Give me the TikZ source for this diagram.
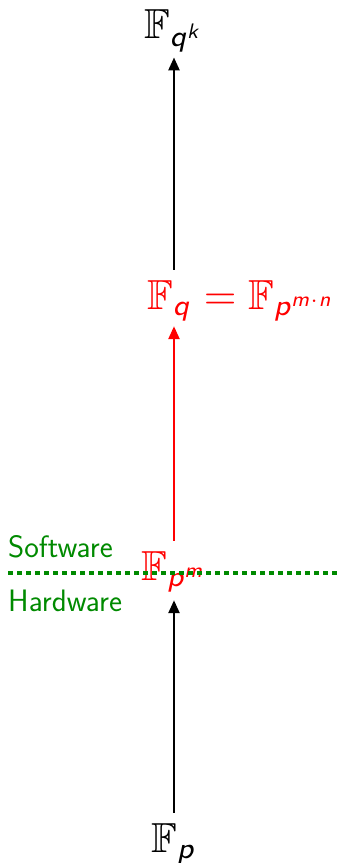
\documentclass[tikz,border=0pt]{standalone}
\usepackage{amssymb}
\usepackage{graphicx}
\usetikzlibrary{arrows.meta}
\DeclareMathAlphabet{\mathsl}{OT1}{cmss}{m}{sl}
\definecolor{swgreen}{RGB}{0,138,0}
\newcommand{\fsc}[1]{\scalebox{4.2}{$#1$}}
\begin{document}
\begin{tikzpicture}[x=1pt,y=-1pt,
  field/.style={inner sep=0pt},
  lbl/.style={inner sep=0pt,text=swgreen,font=\fontsize{31}{34}\selectfont\sffamily},
  arr/.style={line width=2.5pt,-{Triangle[length=13pt,width=11pt]},shorten <=10pt,shorten >=5pt}]
\useasboundingbox (0,0) rectangle (343,863);
\coordinate (col) at (174,0);
\node[field,anchor=base] (fp) at (174,852) {\fsc{\mathbb{F}_{\mathsl{p}}}};
\node[field,anchor=base,text=red] (fpm) at (174,580) {\fsc{\mathbb{F}_{\mathsl{p}^{\mathsl{m}}}}};
\node[field,anchor=base west,text=red] (fq) at (147,309) {\fsc{\mathbb{F}_{\mathsl{q}} = \mathbb{F}_{\mathsl{p}^{\mathsl{m}\cdot \mathsl{n}}}}};
\node[field,anchor=base] (fqk) at (174,38) {\fsc{\mathbb{F}_{\mathsl{q}^{\mathsl{k}}}}};
\coordinate (dl) at (8,573);
\coordinate (dr) at (341,573);
\draw[swgreen,line width=4.5pt,dash pattern=on 4.5pt off 4.5pt] (dl) -- (dr);
\node[lbl,anchor=base west] (sw) at (8,557) {Software};
\node[lbl,anchor=base west] (hw) at (8,611) {Hardware};
\draw[arr,shorten >=8pt] (fp.north -| col) -- (fpm.south -| col);
\draw[arr,red] (fpm.north -| col) -- (fq.south -| col);
\draw[arr] (fq.north -| col) -- (fqk.south -| col);
\end{tikzpicture}
\end{document}
